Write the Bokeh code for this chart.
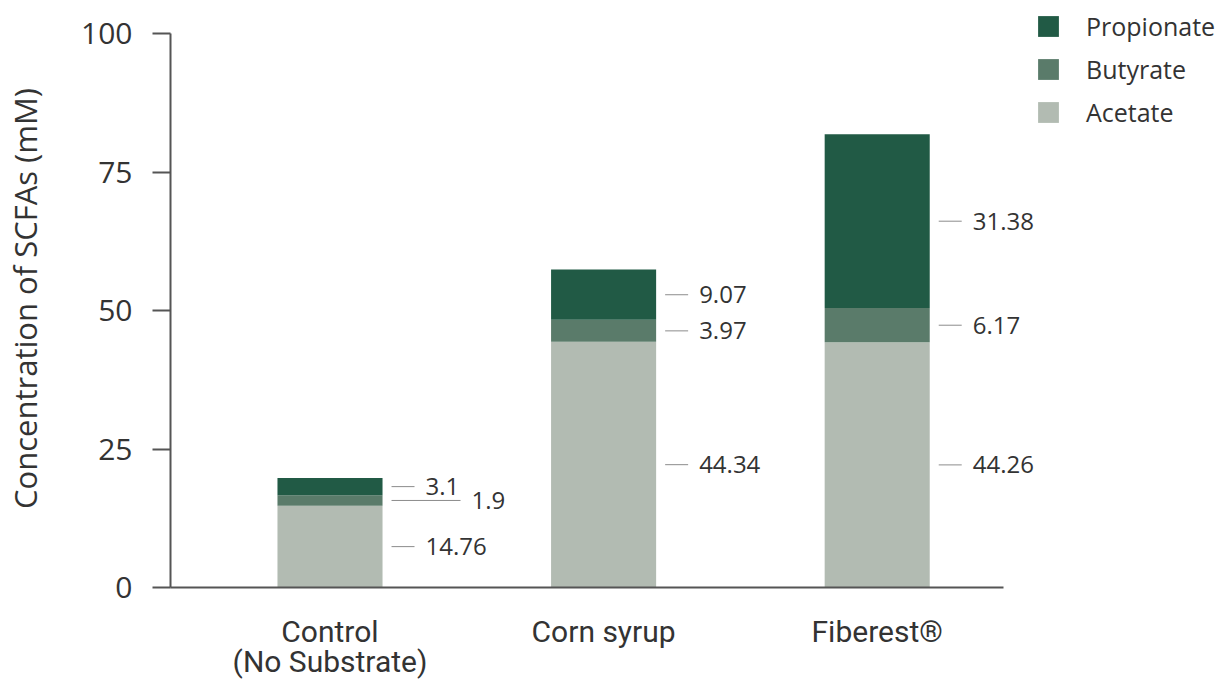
from bokeh.plotting import figure
from bokeh.models import FixedTicker, Legend, LegendItem, ColumnDataSource, Range1d
from bokeh.core.properties import value
from bokeh.embed import file_html
from bokeh.resources import INLINE

# ---- data ----
categories = ["Control\n(No Substrate)", "Corn syrup", "Fiberest\u00ae"]
series = ["Acetate", "Butyrate", "Propionate"]
acetate = [14.76, 44.34, 44.26]
butyrate = [1.9, 3.97, 6.17]
propionate = [3.1, 9.07, 31.38]
y_ticks = [0, 25, 50, 75, 100]

# ---- layout / styles ----
W, H = 1231, 682
left, top, bottom = 170, 9, 95          # borders (px)
axis_right_px = 1003                    # where the x axis line ends (page px)
cat0_px, cat_pitch = 329.5, 273.6       # first category centre, pitch (px)
y_top_px = 33                           # page px of y = 100
colors = ["#b2bbb2", "#5a7b6a", "#215a45"]
bar_width = 0.384
txt = "#333333"
axis_col = "#555555"

x_start = (left - cat0_px) / cat_pitch
x_end = (W - cat0_px) / cat_pitch
x_axis_end = (axis_right_px - cat0_px) / cat_pitch
frame_h = H - top - bottom
y_end = 100 * frame_h / (frame_h - (y_top_px - top))
px_per_unit = cat_pitch
leader_extra = {(0, "Butyrate"): 46}    # longer leader for crowded label

xs = list(range(len(categories)))
source = ColumnDataSource(dict(x=xs, Acetate=acetate, Butyrate=butyrate, Propionate=propionate))

p = figure(width=W, height=H, x_range=Range1d(x_start, x_end), y_range=Range1d(0, y_end),
           output_backend="svg", toolbar_location=None,
           min_border_left=left, min_border_top=top, min_border_right=0, min_border_bottom=bottom)
p.outline_line_color = None
p.grid.visible = False
p.background_fill_color = "white"
p.border_fill_color = "white"

rs = p.vbar_stack(series, x="x", width=bar_width, source=source, fill_color=colors, line_color=None)

# value labels with leader lines
vals = {"Acetate": acetate, "Butyrate": butyrate, "Propionate": propionate}
lx0, lx1, ly, tx, ty, tt, toff = [], [], [], [], [], [], []
for i in xs:
    cum = 0.0
    for s in series:
        v = vals[s][i]
        c = cum + v / 2
        cum += v
        extra = leader_extra.get((i, s), 0)
        right = i + bar_width / 2
        lx0.append(right + 9 / px_per_unit)
        lx1.append(right + (9 + 23 + extra) / px_per_unit)
        ly.append(c)
        tx.append(right)
        ty.append(c)
        tt.append(str(v))
        toff.append(43 + extra)

p.segment(x0=lx0, y0=ly, x1=lx1, y1=ly, line_color="#8c8c8c", line_width=1)
tsrc = ColumnDataSource(dict(x=tx, y=ty, text=tt, xo=toff))
p.text(x="x", y="y", text="text", x_offset="xo", source=tsrc, text_font=value("Open Sans"),
       text_font_size="24px", text_baseline="middle", text_align="left", text_color=txt)

# axes
p.xaxis.ticker = FixedTicker(ticks=xs)
p.xaxis.bounds = (x_start, x_axis_end)
p.xaxis.major_label_overrides = {i: c for i, c in zip(xs, categories)}
p.xaxis.major_tick_line_color = None
p.xaxis.minor_tick_line_color = None
p.xaxis.major_label_standoff = 20
p.xaxis.major_label_text_font = "Roboto"
p.xaxis.major_label_text_font_size = "30px"
p.xaxis.major_label_text_line_height = 0.86
p.xaxis.major_label_text_color = txt
p.xaxis.axis_line_color = axis_col
p.xaxis.axis_line_width = 2

p.yaxis.ticker = FixedTicker(ticks=y_ticks)
p.yaxis.bounds = (0, 100)
p.yaxis.major_tick_out = 18
p.yaxis.major_tick_in = 0
p.yaxis.minor_tick_line_color = None
p.yaxis.major_tick_line_color = axis_col
p.yaxis.major_tick_line_width = 2
p.yaxis.axis_line_color = axis_col
p.yaxis.axis_line_width = 2
p.yaxis.major_label_standoff = 20
p.yaxis.major_label_text_font = "Open Sans"
p.yaxis.major_label_text_font_size = "30px"
p.yaxis.major_label_text_color = txt
p.yaxis.axis_label = "Concentration of SCFAs (mM)"
p.yaxis.axis_label_text_font = "Open Sans"
p.yaxis.axis_label_text_font_style = "normal"
p.yaxis.axis_label_text_font_size = "31px"
p.yaxis.axis_label_text_color = txt
p.yaxis.axis_label_standoff = 32

leg_item_h, leg_gap = 34, 9
leg_h = 3 * leg_item_h + 2 * leg_gap
legend = Legend(items=[LegendItem(label=s, renderers=[r]) for s, r in reversed(list(zip(series, rs)))],
                location=(1035 - left, frame_h - leg_h),
                glyph_width=26, glyph_height=26, label_height=leg_item_h,
                spacing=leg_gap, padding=0, margin=0, label_standoff=25,
                label_text_font="Open Sans", label_text_font_size="25px", label_text_color=txt,
                border_line_alpha=0, background_fill_alpha=0)
p.add_layout(legend)

open("out.html", "w").write(file_html(p, INLINE))
